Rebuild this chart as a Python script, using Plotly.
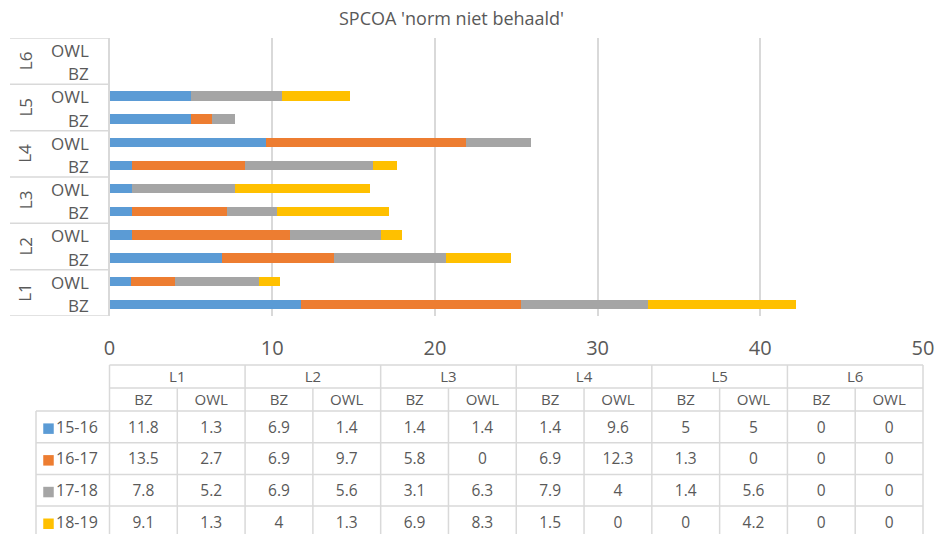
import plotly.graph_objects as go

# ---------------- data ----------------
title_text = "SPCOA 'norm niet behaald'"
levels = ["L1", "L2", "L3", "L4", "L5", "L6"]
types = ["BZ", "OWL"]
series_names = ["15-16", "16-17", "17-18", "18-19"]
s_15_16 = [11.8, 1.3, 6.9, 1.4, 1.4, 1.4, 1.4, 9.6, 5, 5, 0, 0]
s_16_17 = [13.5, 2.7, 6.9, 9.7, 5.8, 0, 6.9, 12.3, 1.3, 0, 0, 0]
s_17_18 = [7.8, 5.2, 6.9, 5.6, 3.1, 6.3, 7.9, 4, 1.4, 5.6, 0, 0]
s_18_19 = [9.1, 1.3, 4, 1.3, 6.9, 8.3, 1.5, 0, 0, 4.2, 0, 0]
x_ticks = [0, 10, 20, 30, 40, 50]

series_values = [s_15_16, s_16_17, s_17_18, s_18_19]
colors = ["#5B9BD5", "#ED7D31", "#A5A5A5", "#FFC000"]
TXT = "#595959"
GRID = "#D9D9D9"
FONT = "Open Sans"

# ---------------- geometry helpers ----------------
W, H = 937, 534
def px(x):
    return x / W
def py(y):
    return 1 - y / H

PLOT_L, PLOT_R, PLOT_T, PLOT_B = 109.5, 923.0, 38.0, 316.0
TAB_T, LEG_L = 365.0, 36.0
n_cols = len(levels) * len(types)
cw = (PLOT_R - PLOT_L) / n_cols          # table column width in px
rh = 31.7                                 # data row height in px
hh = 23.0 / rh                            # header row height in row units
lw = (PLOT_L - LEG_L) / cw                # legend column width in column units
tdy = 1.8 / rh                            # small downward text nudge (row units)

cats = [f"{l} {t}" for l in levels for t in types]

fig = go.Figure()

# ---------------- bars ----------------
for name, vals, col in zip(series_names, series_values, colors):
    fig.add_trace(go.Bar(
        x=vals, y=cats, orientation="h", name=name,
        marker=dict(color=col, line=dict(width=0)),
        showlegend=False, xaxis="x", yaxis="y",
    ))

annotations = []
shapes = []

# category labels (BZ / OWL)
for c in cats:
    annotations.append(dict(
        x=px(91), xref="paper", y=c, yref="y", text=c.split(" ")[1],
        xanchor="right", yanchor="middle", yshift=-1, showarrow=False,
        font=dict(family=FONT, size=17, color=TXT)))
# group labels (L1..L6), rotated
for g, lvl in enumerate(levels):
    annotations.append(dict(
        x=px(25), xref="paper", y=2 * g + 0.5, yref="y", text=lvl,
        textangle=-90, xanchor="center", yanchor="middle", showarrow=False,
        font=dict(family=FONT, size=17, color=TXT)))
# group separator lines on the category axis
for g in range(len(levels) + 1):
    shapes.append(dict(
        type="line", xref="paper", yref="y",
        x0=px(10), x1=px(PLOT_L - 1), y0=2 * g - 0.5, y1=2 * g - 0.5,
        line=dict(color=GRID, width=1.5)))

# title
annotations.append(dict(
    x=px(451.5), xref="paper", y=py(18), yref="paper", text=title_text,
    xanchor="center", yanchor="middle", showarrow=False,
    font=dict(family=FONT, size=18, color=TXT)))

# ---------------- data table ----------------
rb = [0, hh, 2 * hh] + [2 * hh + k for k in range(1, len(series_names) + 1)]
bottom = rb[-1]

# horizontal lines
for i, y in enumerate(rb):
    x0 = 0 if i < 2 else -lw
    shapes.append(dict(type="line", xref="x2", yref="y2", x0=x0, x1=n_cols,
                       y0=y, y1=y, line=dict(color=GRID, width=1.5)))
# vertical lines
for j in range(n_cols + 1):
    y0 = rb[0] if j % 2 == 0 else rb[1]
    shapes.append(dict(type="line", xref="x2", yref="y2", x0=j, x1=j,
                       y0=y0, y1=bottom, line=dict(color=GRID, width=1.5)))
shapes.append(dict(type="line", xref="x2", yref="y2", x0=-lw, x1=-lw,
                   y0=rb[2], y1=bottom, line=dict(color=GRID, width=1.5)))

# header level labels
fig.add_trace(go.Scatter(
    x=[2 * g + 1 for g in range(len(levels))], y=[hh / 2 + tdy] * len(levels),
    text=levels, mode="text", textposition="middle center",
    textfont=dict(family=FONT, size=15, color=TXT),
    xaxis="x2", yaxis="y2", showlegend=False, cliponaxis=False, hoverinfo="skip"))
# header type labels
fig.add_trace(go.Scatter(
    x=[j + 0.5 for j in range(n_cols)], y=[hh * 1.5 + tdy] * n_cols,
    text=[c.split(" ")[1] for c in cats], mode="text", textposition="middle center",
    textfont=dict(family=FONT, size=15, color=TXT),
    xaxis="x2", yaxis="y2", showlegend=False, cliponaxis=False, hoverinfo="skip"))
# values
for k, vals in enumerate(series_values):
    fig.add_trace(go.Scatter(
        x=[j + 0.5 for j in range(n_cols)], y=[rb[2] + k + 0.5 + tdy] * n_cols,
        text=[f"{v:g}" for v in vals], mode="text", textposition="middle center",
        textfont=dict(family=FONT, size=15.5, color=TXT),
        xaxis="x2", yaxis="y2", showlegend=False, cliponaxis=False, hoverinfo="skip"))
# legend keys
key_x = (48.5 - PLOT_L) / cw
for k, (name, col) in enumerate(zip(series_names, colors)):
    fig.add_trace(go.Scatter(
        x=[key_x], y=[rb[2] + k + 0.5 + tdy], text=[name], mode="markers+text",
        textposition="middle right",
        marker=dict(symbol="square", size=10.5, color=col),
        textfont=dict(family=FONT, size=16, color=TXT),
        xaxis="x2", yaxis="y2", showlegend=False, cliponaxis=False, hoverinfo="skip"))

# ---------------- layout ----------------
x2_left = -(PLOT_L - 34) / cw
x2_right = n_cols + (925 - PLOT_R) / cw
y2_top = -(TAB_T - 363) / rh
y2_bottom = (H - TAB_T) / rh

fig.update_layout(
    template="none",
    width=W, height=H, autosize=False,
    margin=dict(l=0, r=0, t=0, b=0, pad=0),
    paper_bgcolor="white", plot_bgcolor="white",
    barmode="stack", bargap=0.6,
    font=dict(family=FONT, color=TXT),
    xaxis=dict(
        domain=[px(PLOT_L), px(PLOT_R)], range=[x_ticks[0], x_ticks[-1]],
        tickvals=x_ticks, ticktext=[str(t) for t in x_ticks],
        showgrid=True, gridcolor=GRID, gridwidth=1.5, zeroline=False,
        showline=False, ticks="", tickfont=dict(family=FONT, size=20, color=TXT),
        ticklabelstandoff=18, anchor="y", fixedrange=True, automargin=False),
    yaxis=dict(
        domain=[py(PLOT_B), py(PLOT_T)], type="category",
        categoryorder="array", categoryarray=cats, range=[-0.5, len(cats) - 0.5],
        showticklabels=False, showgrid=False, zeroline=False,
        showline=True, linecolor=GRID, linewidth=1.5, ticks="",
        anchor="x", fixedrange=True, automargin=False),
    xaxis2=dict(
        domain=[px(34), px(925)], range=[x2_left, x2_right],
        visible=False, anchor="y2", fixedrange=True, automargin=False),
    yaxis2=dict(
        domain=[0, py(363)], range=[y2_bottom, y2_top],
        visible=False, anchor="x2", fixedrange=True, automargin=False),
    annotations=annotations,
    shapes=shapes,
)

fig.write_html(
    "out.html",
    config={"displayModeBar": False, "responsive": False},
    post_script="document.body.style.margin='0';document.body.style.overflow='hidden';",
)
